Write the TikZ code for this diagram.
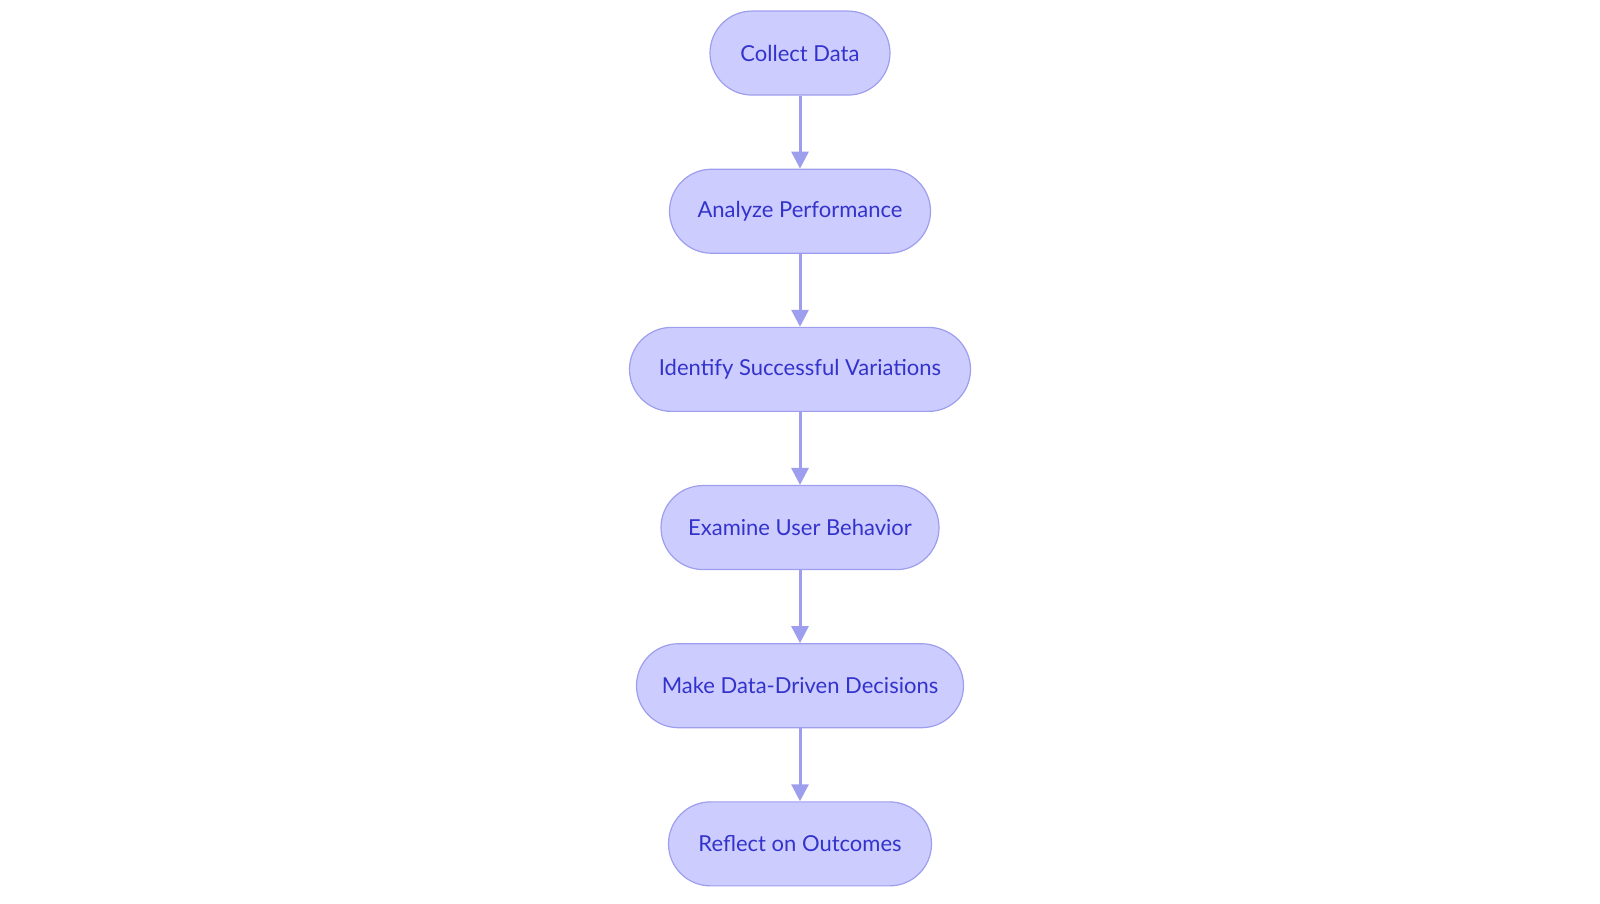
\documentclass[tikz,border=0pt]{standalone}
\usepackage{fontspec}
\setmainfont{Lato}
\usetikzlibrary{arrows.meta}
\definecolor{nfill}{HTML}{CCCCFF}
\definecolor{nline}{HTML}{9E9EEE}
\definecolor{ntext}{HTML}{3333CC}
\begin{document}
\begin{tikzpicture}[x=1.0204pt,y=-1.0204pt,
  box/.style={draw=nline,line width=1.2pt,fill=nfill,rounded corners=42pt,minimum height=84pt,text=ntext,font=\fontsize{22}{26}\selectfont,inner sep=0pt},
  arr/.style={draw=nline,line width=3pt,-{Triangle[length=17pt,width=17pt]}}]
\useasboundingbox (0,0) rectangle (1568,885);
\node[box,minimum width=180pt] (a) at (784,52) {Collect Data};
\node[box,minimum width=261pt] (b) at (784,207) {Analyze Performance};
\node[box,minimum width=341pt] (c) at (784,362) {Identify Successful Variations};
\node[box,minimum width=278pt] (d) at (784,517) {Examine User Behavior};
\node[box,minimum width=327pt] (e) at (784,672) {Make Data-Driven Decisions};
\node[box,minimum width=263pt] (f) at (784,827) {Reflect on Outcomes};
\draw[arr] (a) -- (b);
\draw[arr] (b) -- (c);
\draw[arr] (c) -- (d);
\draw[arr] (d) -- (e);
\draw[arr] (e) -- (f);
\end{tikzpicture}
\end{document}
